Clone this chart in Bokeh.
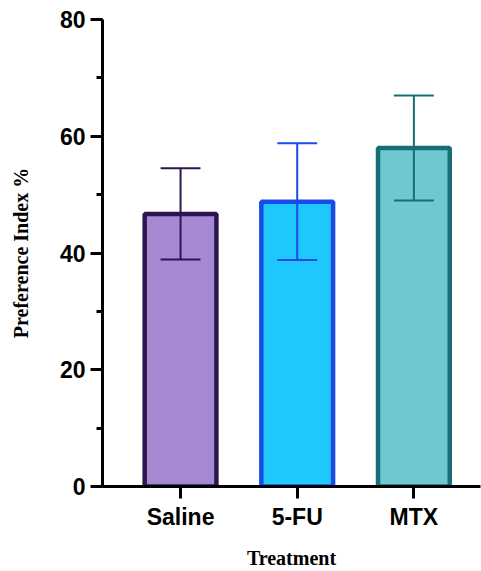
from bokeh.plotting import figure
from bokeh.models import ColumnDataSource, Range1d, FixedTicker, SingleIntervalTicker
from bokeh.embed import file_html
from bokeh.resources import INLINE

treatments = ["Saline", "5-FU", "MTX"]
means = [46.7, 48.8, 58.0]
sds = [7.8, 10.0, 9.0]
fill_colors = ["#a689d3", "#1ec8fe", "#6fc8d0"]
line_colors = ["#2c1650", "#1a4be8", "#166e78"]

x_title = "Treatment"
y_title = "Preference Index %"

positions = list(range(len(treatments)))
bar_width = 0.615
cap_half = 0.171

src = ColumnDataSource(dict(
    x=positions,
    top=means,
    upper=[m + s for m, s in zip(means, sds)],
    lower=[m - s for m, s in zip(means, sds)],
    cl=[x - cap_half for x in positions],
    cr=[x + cap_half for x in positions],
    fill=fill_colors,
    line=line_colors,
))

p = figure(width=481, height=571, output_backend="svg", toolbar_location=None,
           x_range=Range1d(-0.669, 2.571), y_range=Range1d(0, 80),
           min_border_left=102, min_border_right=1, min_border_top=19, min_border_bottom=84)
p.outline_line_color = None
p.xgrid.visible = False
p.ygrid.visible = False
p.background_fill_color = "white"
p.border_fill_color = "white"

p.vbar(x="x", top="top", bottom=0, width=bar_width, source=src,
       fill_color="fill", line_color="line", line_width=4.5)
p.segment(x0="x", y0="lower", x1="x", y1="upper", source=src, line_color="line", line_width=2)
p.segment(x0="cl", y0="upper", x1="cr", y1="upper", source=src, line_color="line", line_width=2)
p.segment(x0="cl", y0="lower", x1="cr", y1="lower", source=src, line_color="line", line_width=2)

tick_font = "Liberation Sans"
title_font = "Liberation Serif"

xa = p.xaxis[0]
xa.ticker = FixedTicker(ticks=positions)
xa.major_label_overrides = {i: t for i, t in zip(positions, treatments)}
xa.axis_label = x_title

ya = p.yaxis[0]
ya.ticker = SingleIntervalTicker(interval=20, num_minor_ticks=2)
ya.axis_label = y_title

for ax in (xa, ya):
    ax.axis_line_width = 3
    ax.axis_line_color = "black"
    ax.major_tick_line_width = 3
    ax.major_tick_line_color = "black"
    ax.minor_tick_line_width = 3
    ax.minor_tick_line_color = "black"
    ax.major_tick_in = 0
    ax.major_tick_out = 12
    ax.minor_tick_in = 0
    ax.minor_tick_out = 6
    ax.major_label_text_font = tick_font
    ax.major_label_text_font_style = "bold"
    ax.major_label_text_font_size = "23px"
    ax.major_label_text_color = "black"
    ax.axis_label_text_font = title_font
    ax.axis_label_text_font_style = "bold"
    ax.axis_label_text_font_size = "20px"
    ax.axis_label_text_color = "black"

xa.minor_tick_out = 0
xa.major_label_standoff = 5
xa.axis_label_standoff = 14
ya.major_label_standoff = 5
ya.axis_label_standoff = 25

open("out.html", "w").write(file_html(p, INLINE))
